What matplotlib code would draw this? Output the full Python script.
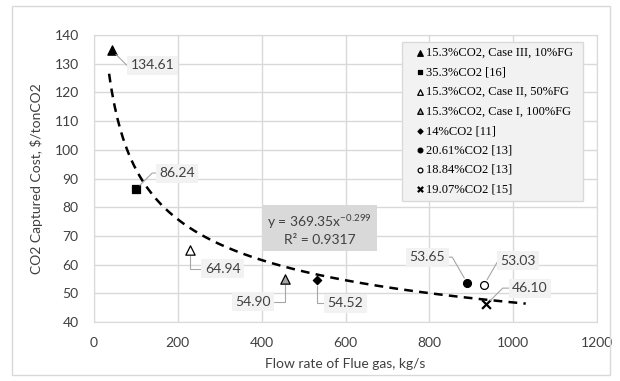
import matplotlib
matplotlib.use("Agg")
import matplotlib.pyplot as plt
import numpy as np
from matplotlib.patches import Rectangle

plt.rcParams['font.family'] = ['Lato', 'DejaVu Sans']
plt.rcParams['mathtext.fontset'] = 'custom'
plt.rcParams['mathtext.rm'] = 'Lato'

# data
flow = [43, 100, 229, 455, 531, 890, 931, 936]
cost = [134.61, 86.24, 64.94, 54.90, 54.52, 53.65, 53.03, 46.10]
names = ['15.3%CO2, Case III, 10%FG', '35.3%CO2 [16]', '15.3%CO2, Case II, 50%FG',
         '15.3%CO2, Case I, 100%FG', '14%CO2 [11]', '20.61%CO2 [13]',
         '18.84%CO2 [13]', '19.07%CO2 [15]']
value_labels = ['134.61', '86.24', '64.94', '54.90', '54.52', '53.65', '53.03', '46.10']
# where each value label sits (data coords)
label_pos = [(140, 129.5), (198, 91.9), (307, 58.5), (379, 47.0),
             (600, 46.6), (795, 62.6), (1012, 61.3), (1040, 51.8)]
# angle of the leader line where it meets the marker
leader_angle = [-45, 45, 90, 90, 90, -60, 60, 45]

# power trendline given on the chart
fit_a = 369.35
fit_b = -0.299
fit_r2 = 0.9317
fit_range = (36, 1030)

xticks = [0, 200, 400, 600, 800, 1000, 1200]
yticks = [40, 50, 60, 70, 80, 90, 100, 110, 120, 130, 140]

# marker styles per series
styles = [
    dict(marker='^', s=45, facecolor='black'),
    dict(marker='s', s=32, facecolor='black'),
    dict(marker='^', s=45, facecolor='white'),
    dict(marker='^', s=45, facecolor='#a6a6a6'),
    dict(marker='D', s=18, facecolor='black'),
    dict(marker='o', s=32, facecolor='black'),
    dict(marker='o', s=32, facecolor='white'),
    dict(marker='x', s=40, facecolor='black'),
]

fig = plt.figure(figsize=(6.2, 3.81), dpi=100)
ax = fig.add_axes([94/620, 1-322/381, (597-94)/620, (322-35)/381])

# outer chart border
fig.patches.append(Rectangle((12/620, 6/381), 598/620, 369/381, transform=fig.transFigure,
                             fill=False, edgecolor='#d9d9d9', lw=1))

for i in range(len(flow)):
    st = styles[i]
    if st['marker'] == 'x':
        ax.scatter(flow[i], cost[i], marker='x', s=st['s'], color='black', linewidths=1.6,
                   label=names[i], zorder=4)
    else:
        ax.scatter(flow[i], cost[i], marker=st['marker'], s=st['s'], facecolor=st['facecolor'],
                   edgecolor='black', linewidths=0.9, label=names[i], zorder=4)

xs = np.linspace(fit_range[0], fit_range[1], 300)
ax.plot(xs, fit_a * xs ** fit_b, color='black', lw=1.8, ls=(0, (3.5, 2.5)), zorder=3)

for i in range(len(flow)):
    ax.annotate(value_labels[i], xy=(flow[i], cost[i]), xytext=label_pos[i],
                ha='center', va='center', fontsize=10, color='#404040',
                bbox=dict(boxstyle='square,pad=0.25', fc='#f2f2f2', ec='none'),
                arrowprops=dict(arrowstyle='-', color='#a6a6a6', lw=0.8,
                                connectionstyle='angle,angleA=0,angleB=%d,rad=0' % leader_angle[i],
                                shrinkA=0, shrinkB=4), zorder=5)

ax.text(538, 72.4, 'y = %.2fx$^{%.3f}$\nR² = %.4f' % (fit_a, fit_b, fit_r2),
        ha='center', va='center', fontsize=10, color='#404040', linespacing=1.3,
        bbox=dict(boxstyle='square,pad=0.35', fc='#d9d9d9', ec='none'), zorder=5)

ax.set_xlim(0, 1200)
ax.set_ylim(40, 140)
ax.set_xticks(xticks)
ax.set_yticks(yticks)
ax.grid(True, color='#d9d9d9', lw=1)
ax.set_axisbelow(True)
for sp in ax.spines.values():
    sp.set_color('#d9d9d9')
ax.tick_params(length=0, labelsize=10, colors='#404040', pad=11)
ax.set_xlabel('Flow rate of Flue gas, kg/s', fontsize=10, color='#404040', labelpad=6)
ax.set_ylabel('CO2 Captured Cost, $/tonCO2', fontsize=10, color='#404040', labelpad=8)

leg = ax.legend(loc='upper left', bbox_to_anchor=(402/620, 1-203/381, 181/620, 161/381),
                bbox_transform=fig.transFigure, mode='expand', borderaxespad=0,
                fancybox=False, frameon=True,
                facecolor='#f2f2f2', edgecolor='#d9d9d9', framealpha=1,
                prop={'family': 'Liberation Serif', 'size': 9},
                labelspacing=0.6, handletextpad=-0.45, handlelength=2.0,
                borderpad=0.4, markerscale=0.6, scatterpoints=1)
leg.get_frame().set_linewidth(1)
leg.set_zorder(6)

fig.savefig('out.png', dpi=100)
